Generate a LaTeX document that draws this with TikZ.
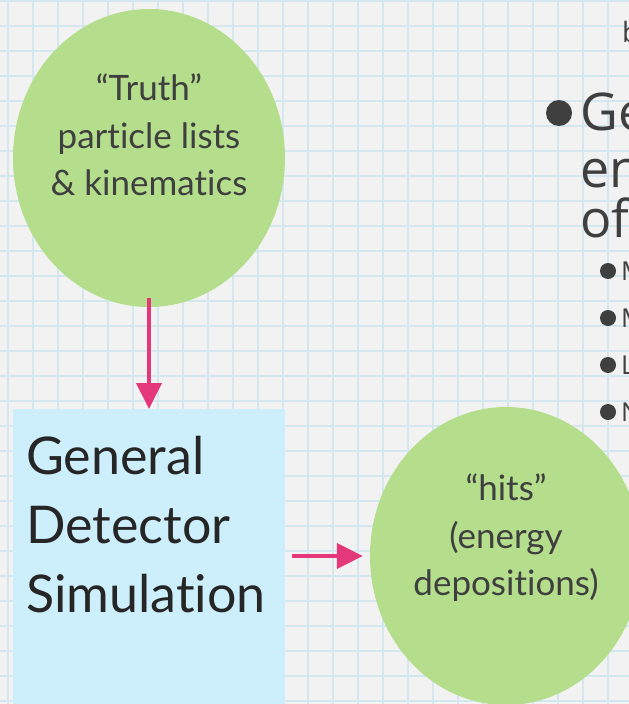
\documentclass[tikz,border=0pt]{standalone}
\usepackage{fontspec}
\setmainfont{Lato}[Ligatures=NoCommon]
\newfontfamily\slidefont{Open Sans}
\usetikzlibrary{arrows.meta,positioning,shapes.geometric}

\definecolor{paper}{HTML}{F2F2F2}
\definecolor{gridblue}{HTML}{D4E7EF}
\definecolor{blobgreen}{HTML}{B4DE8C}
\definecolor{boxblue}{HTML}{CDEFFC}
\definecolor{flowpink}{HTML}{E4387A}
\definecolor{inkgray}{HTML}{3F3F3F}

\tikzset{
  blob/.style={ellipse, fill=blobgreen, minimum width=272pt, minimum height=298pt, inner sep=0pt},
  blobtext/.style={align=center, text=inkgray, inner sep=0pt, font=\fontsize{35}{47.5}\selectfont},
  simbox/.style={rectangle, fill=boxblue, minimum width=272pt, minimum height=320pt, inner sep=0pt, anchor=north west},
  simtext/.style={align=left, text=black!85, inner sep=0pt, anchor=north west, font=\fontsize{52}{69}\selectfont},
  flow/.style={draw=flowpink, line width=4pt, -{Triangle[length=26pt,width=25pt]}},
  slide/.style={text=inkgray, inner sep=0pt, anchor=base west},
  dot/.style={circle, fill=inkgray, inner sep=0pt}
}

\begin{document}
\begin{tikzpicture}[x=1pt, y=-1pt]
  \useasboundingbox (0,0) rectangle (629,704);
  \clip (0,0) rectangle (629,704);
  % graph paper
  \fill[paper] (0,0) rectangle (629,704);
  \foreach \gx in {8,33,...,633} \draw[gridblue, line width=2pt] (\gx,0) -- (\gx,704);
  \foreach \gy in {1,26,...,704} \draw[gridblue, line width=2pt] (0,\gy) -- (629,\gy);

  % the three stages
  \node[blob] (truth) at (149,158) {};
  \node[blobtext] (truthtxt) at ([yshift=23pt]truth.center) {“Truth”\\particle lists\\\& kinematics};
  \node[simbox] (sim) at (13,409) {};
  \node[simtext] (simtxt) at ([xshift=13pt,yshift=-27pt]sim.north west) {General\\Detector\\Simulation};
  \node[blob] (hits) at (506,556) {};
  \node[blobtext] (hitstxt) at ([yshift=18pt]hits.center) {“hits”\\(energy\\depositions)};

  \draw[flow, shorten <=-9pt] (truth.south) -- (truth.south |- sim.north);
  \draw[flow, shorten <=7pt, shorten >=7pt] (sim.east |- hits.west) -- (hits.west);

  % slide text running off the edge
  \node[slide, font=\slidefont\fontsize{28}{28}\selectfont] (btxt) at (622,42) {b};
  \node[dot, minimum size=26pt] (gedot) at (559,113) {};
  \node[slide, font=\slidefont\fontsize{52}{52}\selectfont] (ge) at (580,130) {Ge};
  \node[slide, font=\slidefont\fontsize{52}{52}\selectfont] (en) at (580,187) {en};
  \node[slide, font=\slidefont\fontsize{52}{52}\selectfont] (of) at (580,237) {of};
  \foreach \sy/\sl [count=\si] in {280/M,327/M,374/L,421/N} {
    \node[dot, minimum size=16pt] (subdot\si) at (608,\sy-9) {};
    \node[slide, font=\slidefont\fontsize{26}{26}\selectfont] (sub\si) at (621,\sy) {\sl};
  }
\end{tikzpicture}
\end{document}
